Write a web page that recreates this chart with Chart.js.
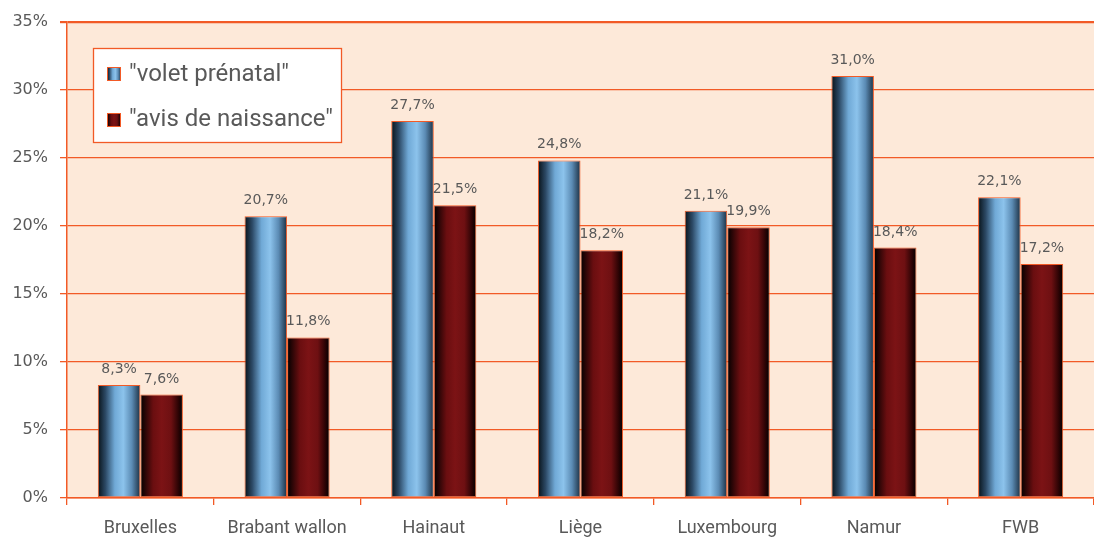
<!DOCTYPE html>
<html><head><meta charset="utf-8">
<script src="https://cdn.jsdelivr.net/npm/chart.js@4/dist/chart.umd.min.js"></script>
<style>html,body{margin:0;padding:0;background:#fff}#wrap{width:1094px;height:537px}</style>
</head><body><div id="wrap"><canvas id="c" width="1094" height="537"></canvas></div>
<script>
const categories = ['Bruxelles','Brabant wallon','Hainaut','Liège','Luxembourg','Namur','FWB'];
const voletPrenatal = [8.3, 20.7, 27.7, 24.8, 21.1, 31.0, 22.1];
const avisNaissance = [7.6, 11.8, 21.5, 18.2, 19.9, 18.4, 17.2];
const seriesNames = ['"volet prénatal"', '"avis de naissance"'];
const yMin = 0, yMax = 35, yStep = 5;

const ORANGE = '#F25A26';
const GREY = '#595959';
const gradStops = [
  [[0,'#081218'],[0.18,'#2c4965'],[0.4,'#70a9d6'],[0.6,'#8cc3ec'],[0.8,'#5b8bb4'],[1,'#1b2f42']],
  [[0,'#000000'],[0.3,'#6a0e10'],[0.5,'#7c1315'],[0.72,'#6e1012'],[0.9,'#2a0304'],[1,'#000000']]
];
function makeGrad(ctx,l,r,i){
  const g = ctx.createLinearGradient(l,0,r,0);
  gradStops[i].forEach(([o,c])=>g.addColorStop(o,c));
  return g;
}

const bgPlugin = {
  id:'bgPlugin',
  beforeDraw(chart){
    const {ctx, chartArea:a} = chart;
    ctx.save();
    ctx.fillStyle = '#FDE9D9';
    ctx.fillRect(a.left, a.top, a.right-a.left, a.bottom-a.top);
    ctx.restore();
  }
};

const gradientBars = {
  id:'gradientBars',
  beforeDatasetsDraw(chart){
    const ctx = chart.ctx;
    chart.data.datasets.forEach((ds,i)=>{
      const meta = chart.getDatasetMeta(i);
      meta.data.forEach(el=>{
        const l = el.x - el.width/2, r = el.x + el.width/2;
        el.options = Object.assign({}, el.options, {backgroundColor: makeGrad(ctx,l,r,i)});
      });
    });
  }
};

const valueLabels = {
  id:'valueLabels',
  afterDatasetsDraw(chart){
    const ctx = chart.ctx;
    ctx.save();
    ctx.fillStyle = GREY;
    ctx.font = '14px "DejaVu Sans"';
    ctx.textAlign = 'center';
    ctx.textBaseline = 'alphabetic';
    chart.data.datasets.forEach((ds,i)=>{
      const meta = chart.getDatasetMeta(i);
      meta.data.forEach((el,j)=>{
        const txt = ds.data[j].toFixed(1).replace('.',',') + '%';
        ctx.fillText(txt, el.x, el.y - 12);
      });
    });
    ctx.restore();
  }
};

const boxLegend = {
  id:'boxLegend',
  afterDraw(chart){
    const ctx = chart.ctx;
    const bx = 93.5, by = 48.5, bw = 248, bh = 94;
    ctx.save();
    ctx.fillStyle = '#ffffff';
    ctx.fillRect(bx, by, bw, bh);
    ctx.strokeStyle = ORANGE;
    ctx.lineWidth = 1.3;
    ctx.strokeRect(bx, by, bw, bh);
    chart.data.datasets.forEach((ds,i)=>{
      const my = 67 + i*46;
      ctx.fillStyle = makeGrad(ctx,107,121,i);
      ctx.fillRect(107, my, 14, 14);
      ctx.lineWidth = 1;
      ctx.strokeStyle = ORANGE;
      ctx.strokeRect(107.5, my+0.5, 13, 13);
      ctx.fillStyle = GREY;
      ctx.font = '24px Roboto';
      ctx.textAlign = 'left';
      ctx.textBaseline = 'alphabetic';
      ctx.fillText(ds.label, 129, 81 + i*45);
    });
    ctx.restore();
  }
};

new Chart(document.getElementById('c'), {
  type:'bar',
  data:{
    labels: categories,
    datasets:[
      {label: seriesNames[0], data: voletPrenatal, borderColor: ORANGE, borderWidth:1, borderSkipped:false, backgroundColor:'#8cc3ec'},
      {label: seriesNames[1], data: avisNaissance, borderColor: ORANGE, borderWidth:1, borderSkipped:false, backgroundColor:'#7c1315'}
    ]
  },
  options:{
    responsive:false,
    animation:false,
    devicePixelRatio:1,
    layout:{padding:{top:18,left:0,right:0,bottom:0}},
    datasets:{bar:{barPercentage:1, categoryPercentage:0.58}},
    plugins:{legend:{display:false}, tooltip:{enabled:false}, title:{display:false}},
    scales:{
      x:{
        grid:{offset:true, drawOnChartArea:false, color:ORANGE, tickLength:7, lineWidth:1.3},
        border:{color:ORANGE, width:1.5},
        ticks:{color:GREY, font:{family:'Roboto', size:18}, padding:13, maxRotation:0, autoSkip:false},
        afterFit(s){ s.height = 39; }
      },
      y:{
        min:yMin, max:yMax,
        ticks:{stepSize:yStep, callback:v=>v+'%', color:GREY, font:{family:'DejaVu Sans', size:16}, padding:12},
        grid:{color:ORANGE, lineWidth:c=>(c.tick && c.tick.value===yMax)?2.2:1.3, tickLength:7},
        border:{color:ORANGE, width:1.5},
        afterFit(s){ s.width = 67; }
      }
    }
  },
  plugins:[bgPlugin, gradientBars, valueLabels, boxLegend]
});
</script>
</body></html>
